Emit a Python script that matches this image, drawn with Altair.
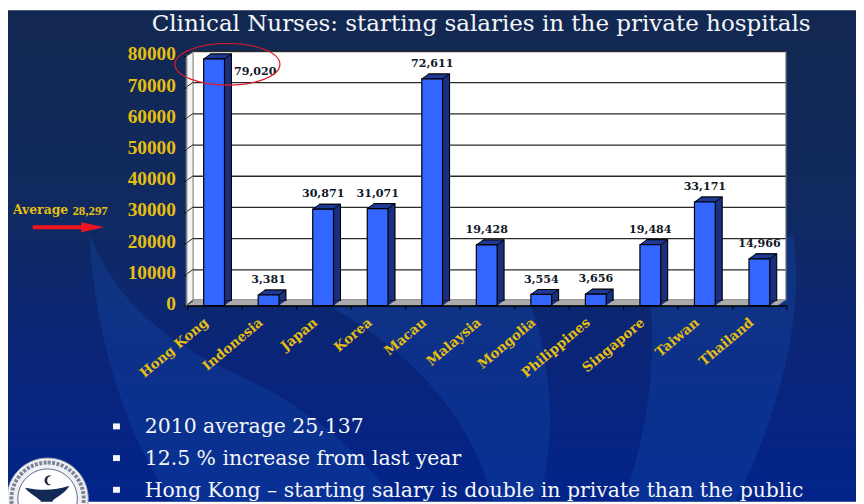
import altair as alt

countries = ["Hong Kong", "Indonesia", "Japan", "Korea", "Macau", "Malaysia",
             "Mongolia", "Philippines", "Singapore", "Taiwan", "Thailand"]
salaries = [79020, 3381, 30871, 31071, 72611, 19428, 3554, 3656, 19484, 33171, 14966]
labels = ["79,020", "3,381", "30,871", "31,071", "72,611", "19,428",
          "3,554", "3,656", "19,484", "33,171", "14,966"]
y_ticks = [0, 10000, 20000, 30000, 40000, 50000, 60000, 70000, 80000]
title_text = "Clinical Nurses: starting salaries in the private hospitals"
bullets = ["2010 average 25,137", "12.5 % increase from last year",
           "Hong Kong \u2013 starting salary is double in private than the public"]

W, H = 856, 496
SERIF = "Liberation Serif"
WIDE = "DejaVu Serif"
GOLD = "#E6BE12"

rows = [{"c": c, "v": v, "l": l, "z": 0} for c, v, l in zip(countries, salaries, labels)]
data = alt.Data(values=rows)
ticks = alt.Data(values=[{"t": t} for t in y_ticks])
grid = alt.Data(values=[{"t": t} for t in y_ticks[1:]])
one = alt.Data(values=[{"a": 1}])

yscale = alt.Scale(domain=[0, 80000], range=[298, 46], nice=False)
xscale = alt.Scale(domain=countries, range=[180.5, 786], paddingInner=0, paddingOuter=0, round=False)
x_axis = alt.Axis(orient="bottom", offset=-198, zindex=1, labelAngle=320,
                  labelAlign="right", labelBaseline="middle", labelPadding=11, labelOffset=-8,
                  labelFont=WIDE, labelFontWeight="bold", labelFontSize=13.5,
                  labelColor=GOLD, tickColor="#000000", domainColor="#000000",
                  tickSize=4, tickBand="extent", domainWidth=1.5, labelOverlap=False)
y_axis = alt.Axis(orient="left", offset=-180, zindex=1, values=y_ticks, format="d",
                  labelFont=SERIF, labelFontWeight="bold", labelFontSize=19.5, labelOffset=-2,
                  labelColor=GOLD, tickColor="#000000", domainColor="#777777",
                  tickSize=3, labelPadding=8, grid=False)
Xn = alt.X("c:N", scale=xscale, sort=countries, title=None, axis=x_axis)
Yn = alt.Y("v:Q", scale=yscale, title=None, axis=y_axis)
Yt = alt.Y("t:Q", scale=yscale, title=None, axis=y_axis)


def shape(path, fill=None, stroke=None, sw=1.0, x=0, y=0, op=1.0, dash=None):
    kw = dict(shape=path, size=4, opacity=op, filled=fill is not None)
    if fill is not None:
        kw["fill"] = fill
    if stroke is not None:
        kw["stroke"] = stroke
        kw["strokeWidth"] = sw
    else:
        kw["strokeWidth"] = 0
    if dash is not None:
        kw["strokeDash"] = dash
    return alt.Chart(one).mark_point(**kw).encode(x=alt.value(x), y=alt.value(y))


def txt(s, x, y, size, color="#F4F5F8", font=WIDE, weight="normal", align="left"):
    return alt.Chart(alt.Data(values=[{"s": s}])).mark_text(
        font=font, fontSize=size, fontWeight=weight, color=color, align=align, baseline="middle"
    ).encode(x=alt.value(x), y=alt.value(y), text="s:N")


bg = alt.Chart(one).mark_rect(
    color=alt.Gradient(gradient="linear", x1=0, x2=0, y1=0, y2=1,
                       stops=[alt.GradientStop(color="#122851", offset=0),
                              alt.GradientStop(color="#102A60", offset=0.4),
                              alt.GradientStop(color="#0A2578", offset=0.7),
                              alt.GradientStop(color="#02248A", offset=1)])
).encode(x=alt.value(0), x2=alt.value(W), y=alt.value(0), y2=alt.value(H))

LIGHT = "#1650B4"
swoosh_a = shape("M82,225 C88,330 118,430 167,496 L391,496 C352,440 300,400 234,369 "
                 "C170,340 110,300 82,225 Z", fill=LIGHT, op=0.3)
swoosh_b = shape("M290,282 L522,282 C547,345 557,425 535,496 L489,496 C475,425 412,335 290,282 Z",
                 fill=LIGHT, op=0.3)
swoosh_c = shape("M647,272 L792,227 C807,312 772,422 734,496 L622,496 C637,445 658,380 647,272 Z",
                 fill=LIGHT, op=0.3)

logo = (shape("M40,452 A41,41 0 1,1 39.9,452 Z", fill="#F0F1F3", stroke="#9AA3B5", sw=1)
        + shape("M40,456.5 A36.5,36.5 0 1,1 39.9,456.5 Z", stroke="#7C8496", sw=4, dash=[3, 1.5])
        + shape("M40,463 A30,30 0 1,1 39.9,463 Z", fill="#FFFFFF", stroke="#1C2A55", sw=0.7)
        + shape("M17,482 C32,485 48,485 62,480 C58,487 50,491 45,495 L45,496 L33,496 "
                "L33,495 C27,490 21,487 17,482 Z", fill="#122A55")
        + shape("M44,470 A5,5 0 1,0 44,479 A4,4 0 1,1 44,470 Z", fill="#222C44"))

left_wall = shape("M180,298 L187,292 L187,42 L180,46 Z", fill="#F4F4F4", stroke="#8C8C8C", sw=1.2)
back_wall = shape("M187,42 L785,42 L785,292 L187,292 Z", fill="#FFFFFF", stroke="#A8A8A8", sw=1.4)
floor = shape("M180,298 L187,292 L785,292 L777,298 Z", fill="#ABABAB", stroke="#8C8C8C", sw=0.6)

gridlines = alt.Chart(grid).mark_rule(color="#2A2A2A", strokeWidth=1.3, yOffset=-4.5).encode(
    x=alt.value(187), x2=alt.value(785), y=Yt)
wall_ticks = alt.Chart(ticks).mark_point(shape="M0,0L7,-5", size=4, filled=False, opacity=1,
                                         stroke="#222222", strokeWidth=1).encode(
    x=alt.value(180), y=Yt)

TOP = "M-10.5,0 L10.5,0 L17.5,-5 L-3.5,-5 Z"
DARK = "#1E3A96"
SIDE = "#1B2F80"
base = alt.Chart(data)
side = base.mark_bar(size=21, xOffset=7, yOffset=-5, y2Offset=-5, color=SIDE,
                     stroke="#000000", strokeWidth=1.1).encode(x=Xn, y=Yn, y2=alt.datum(0))
bottom = base.mark_point(shape=TOP, size=4, opacity=1, filled=True, fill=SIDE,
                         strokeWidth=0).encode(x=Xn, y=alt.Y("z:Q", scale=yscale, title=None, axis=y_axis))
top = base.mark_point(shape=TOP, size=4, opacity=1, filled=True, fill=DARK,
                      stroke="#000000", strokeWidth=1).encode(x=Xn, y=Yn)
front = base.mark_bar(size=21, color="#3366FF", stroke="#000000", strokeWidth=1.2).encode(x=Xn, y=Yn)

value_labels = base.transform_filter("datum.c != 'Hong Kong'").mark_text(
    font=WIDE, fontWeight="bold", fontSize=11.2, color="#101828", dy=-15
).encode(x=Xn, y=Yn, text="l:N")
hk_label = base.transform_filter("datum.c == 'Hong Kong'").mark_text(
    font=WIDE, fontWeight="bold", fontSize=11.2, color="#101828", dx=41.5, dy=13
).encode(x=Xn, y=Yn, text="l:N")

ellipse = alt.Chart(one).mark_point(
    shape="M-53,0 C-53,-12 -28,-21 0,-21 C29,-21 53,-12 53,0 C53,12 29,21 0,21 C-28,21 -53,12 -53,0 Z",
    size=4, filled=False, opacity=1, stroke="#E2182C", strokeWidth=1.2
).encode(x=alt.value(221.5), y=alt.value(54.5))
arrow = shape("M25,217 L74,217 L74,214 L97,219 L74,224 L74,221 L25,221 Z", fill="#F0141E")

layers = [bg, swoosh_a, swoosh_b, swoosh_c, logo, left_wall, back_wall, floor, gridlines, wall_ticks,
          side, bottom, top, front, value_labels, hk_label, ellipse, arrow,
          txt(title_text, 145, 14, 23.2),
          txt("Average", 5, 202, 12.5, color=GOLD, weight="bold"),
          txt("28,297", 65, 203, 13, color=GOLD, font=SERIF, weight="bold")]
for b, yy in zip(bullets, [421, 453, 485]):
    layers.append(shape("M106,%d h7 v6 h-7 Z" % (yy - 4), fill="#F4F5F8"))
    layers.append(txt(b, 138, yy, 20.6))

chart = alt.layer(*layers).properties(
    width=W, height=H, padding=0, autosize=alt.AutoSizeParams(type="none")
).configure_view(stroke=None)

chart.save("out.html", embed_options={"renderer": "svg", "actions": False})
